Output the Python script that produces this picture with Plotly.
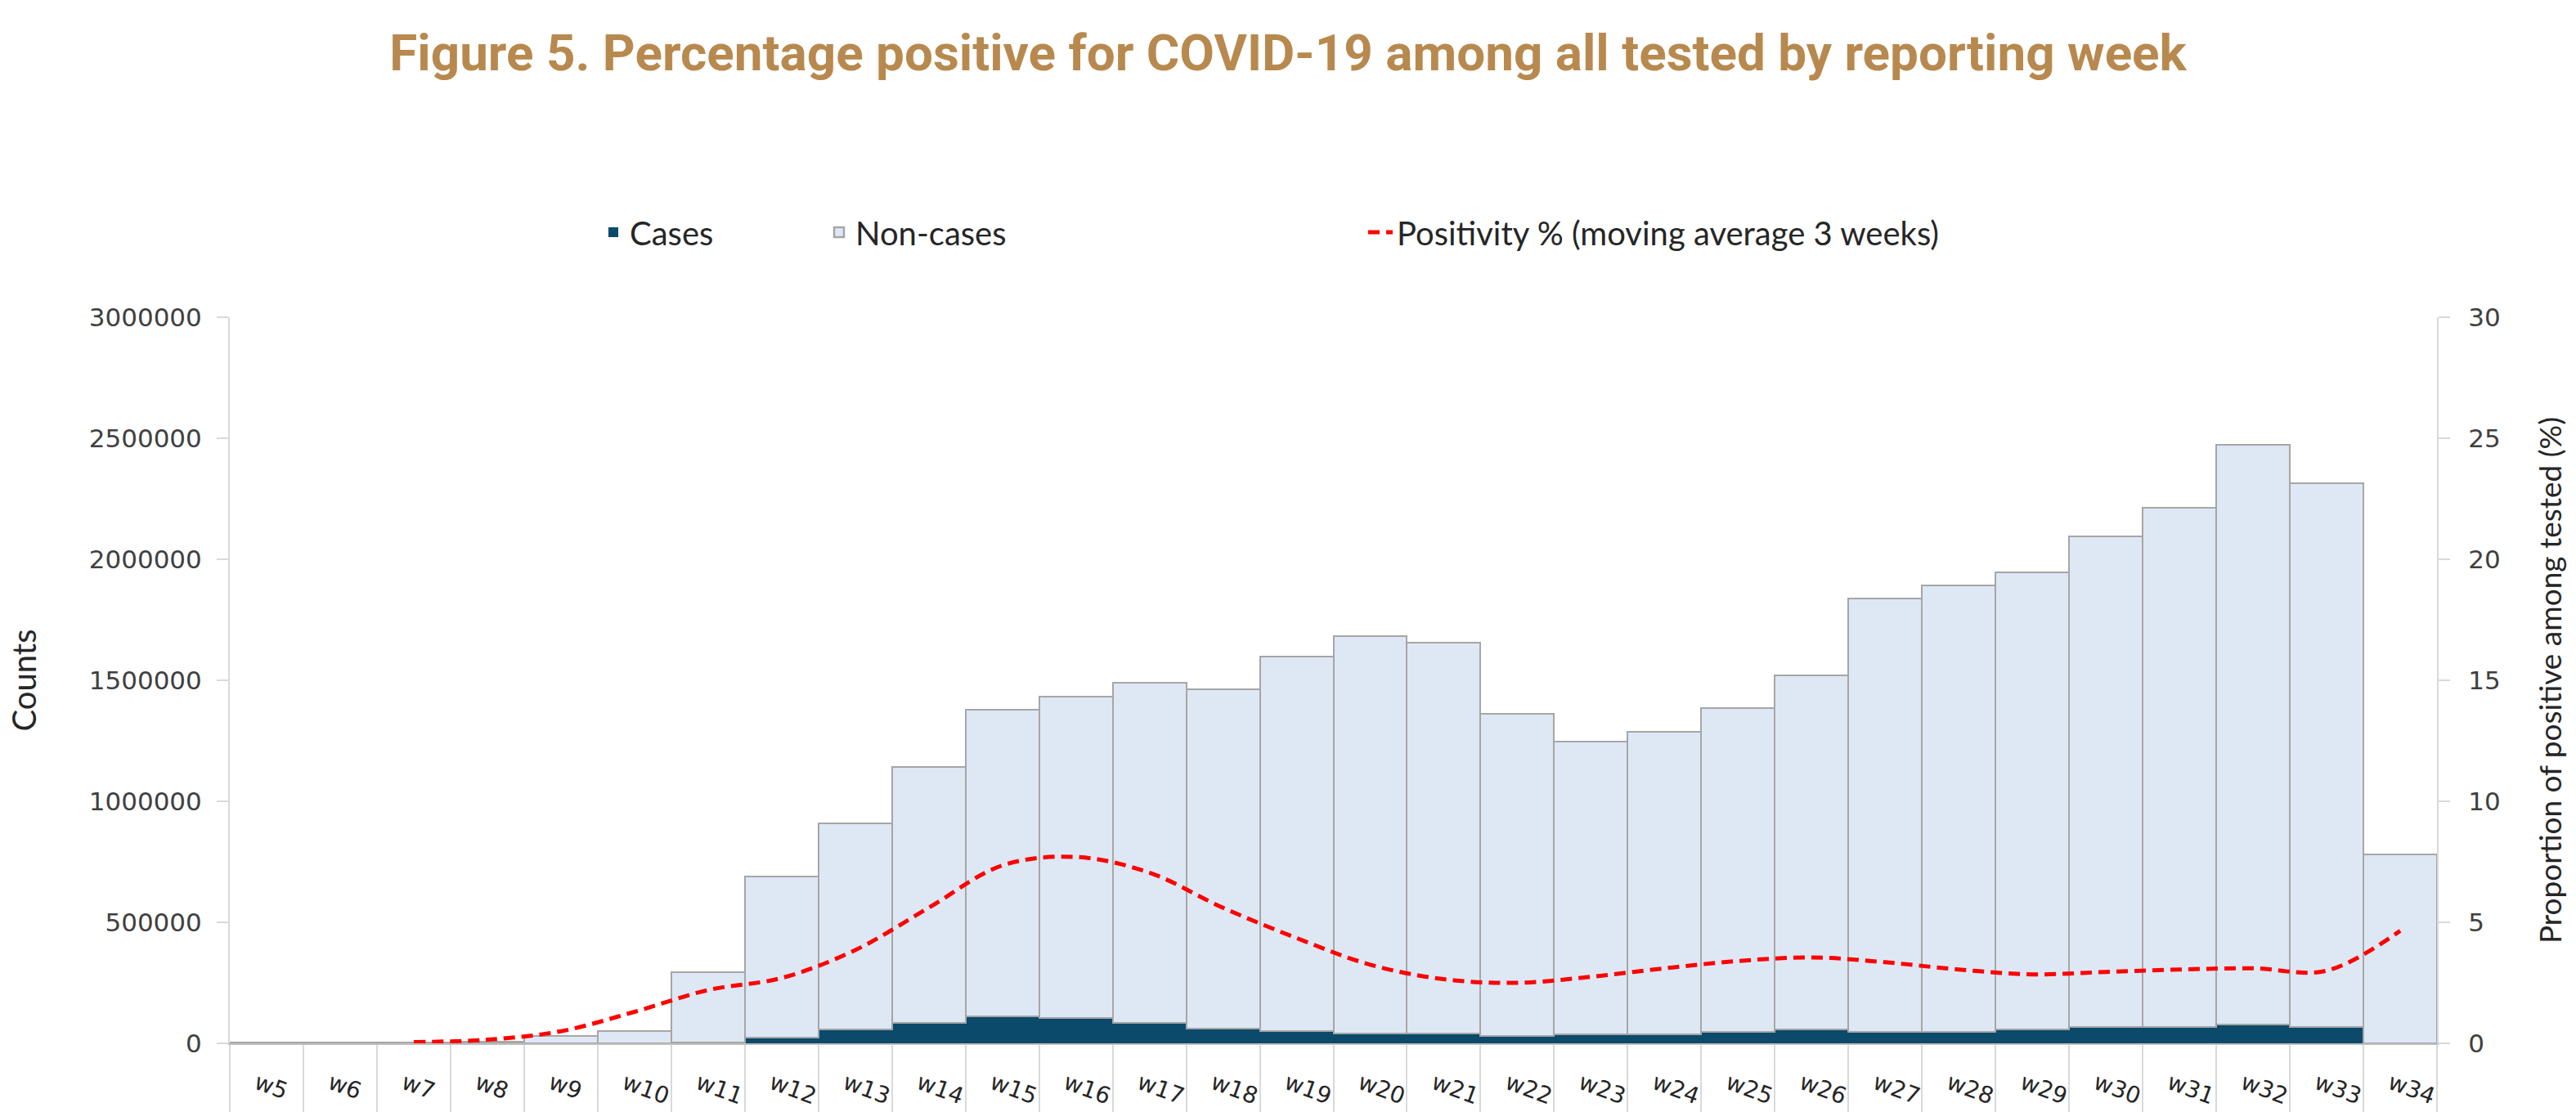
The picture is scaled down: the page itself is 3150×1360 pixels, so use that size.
import plotly.graph_objects as go

weeks = ["w5", "w6", "w7", "w8", "w9", "w10", "w11", "w12", "w13", "w14",
         "w15", "w16", "w17", "w18", "w19", "w20", "w21", "w22", "w23", "w24",
         "w25", "w26", "w27", "w28", "w29", "w30", "w31", "w32", "w33", "w34"]

cases = [0, 0, 0, 0, 500, 1000, 5000, 23000, 57000, 85000,
         111000, 104000, 84000, 60000, 50000, 40000, 40000, 30000, 38000, 38000,
         49000, 57000, 47000, 47000, 57000, 67000, 67000, 78000, 67000, 0]

non_cases = [2000, 2000, 3000, 8000, 31500, 49000, 290000, 667000, 853000, 1057000,
             1267000, 1328000, 1406000, 1403000, 1548000, 1643000, 1616000, 1331000, 1208000, 1249000,
             1336000, 1463000, 1791000, 1845000, 1889000, 2027000, 2146000, 2395000, 2247000, 780000]

positivity = [None, None, 0.05, 0.15, 0.5, 1.3, 2.2, 2.7, 3.85, 5.6,
              7.35, 7.7, 7.05, 5.6, 4.35, 3.25, 2.65, 2.5, 2.75, 3.1,
              3.4, 3.55, 3.35, 3.05, 2.85, 2.95, 3.05, 3.1, 3.0, 4.65]

y_ticks = [0, 500000, 1000000, 1500000, 2000000, 2500000, 3000000]
y2_ticks = [0, 5, 10, 15, 20, 25, 30]

TITLE = "Figure 5. Percentage positive for COVID-19 among all tested by reporting week"
GOLD = "#B8894E"
DARK = "#0B4A6A"
LIGHT = "#DEE8F4"
OUTLINE = "#A6A6A6"
AXIS = "#D9D9D9"
TICKFONT = dict(family="DejaVu Sans", size=31, color="#404040")
LABELFONT = dict(family="Lato", size=40, color="#262626")

fig = go.Figure()
fig.add_trace(go.Bar(x=weeks, y=cases, name="Cases", marker=dict(color=DARK, line=dict(width=0)),
                     legend="legend"))
fig.add_trace(go.Bar(x=weeks, y=non_cases, name="Non-cases",
                     marker=dict(color=LIGHT, line=dict(color=OUTLINE, width=2.5)),
                     legend="legend2"))
fig.add_trace(go.Scatter(x=weeks, y=positivity, name="Positivity % (moving average 3 weeks)",
                         mode="lines", yaxis="y2", connectgaps=False,
                         line=dict(color="#FF0000", width=5, dash="14px,8px", shape="spline", smoothing=1),
                         legend="legend3"))

legend_common = dict(orientation="h", xref="container", yref="container", y=1 - 284 / 1360,
                     yanchor="middle", xanchor="left", font=LABELFONT, bgcolor="rgba(0,0,0,0)",
                     borderwidth=0)

fig.update_layout(
    width=3150, height=1360,
    margin=dict(l=281, r=170, t=388, b=84, autoexpand=False),
    paper_bgcolor="white", plot_bgcolor="white",
    barmode="stack", bargap=0,
    title=dict(text=f"<b>{TITLE}</b>", x=0.5, xref="container", xanchor="center",
               y=1 - 64 / 1360, yref="container", yanchor="middle",
               font=dict(family="Roboto", size=62, color=GOLD)),
    showlegend=True,
    legend=dict(x=730 / 3150, **legend_common),
    legend2=dict(x=1006 / 3150, **legend_common),
    legend3=dict(x=1668 / 3150, **legend_common),
    xaxis=dict(type="category", range=[-0.5, len(weeks) - 0.5], showgrid=False, automargin=False,
               showline=True, linecolor="#BFBFBF", linewidth=2,
               ticks="outside", tickson="boundaries", ticklen=84, tickcolor=AXIS, tickwidth=2,
               tickangle=20, ticklabelstandoff=20, ticklabelshift=-12,
               tickfont=dict(family="DejaVu Sans", size=28, color="#262626")),
    yaxis=dict(range=[0, 3000000], tickvals=y_ticks, tickformat="d", showgrid=False, zeroline=False,
               automargin=False, showline=True, linecolor=AXIS, linewidth=2, ticks="outside", ticklen=14,
               tickcolor=AXIS, tickwidth=2, tickfont=TICKFONT, ticklabelstandoff=12,
               title=dict(text="Counts", font=LABELFONT, standoff=52)),
    yaxis2=dict(range=[0, 30], tickvals=y2_ticks, overlaying="y", side="right", showgrid=False,
                automargin=False, zeroline=False, showline=True, linecolor=AXIS, linewidth=2,
                ticks="outside", ticklen=14, tickcolor=AXIS, tickwidth=2, tickfont=TICKFONT,
                ticklabelstandoff=16,
                title=dict(text="Proportion of positive among tested (%)",
                           font=dict(family="Lato", size=37, color="#262626"), standoff=49)),
)

fig.write_html("out.html", config={"displayModeBar": False},
               post_script="document.body.style.margin='0';")
